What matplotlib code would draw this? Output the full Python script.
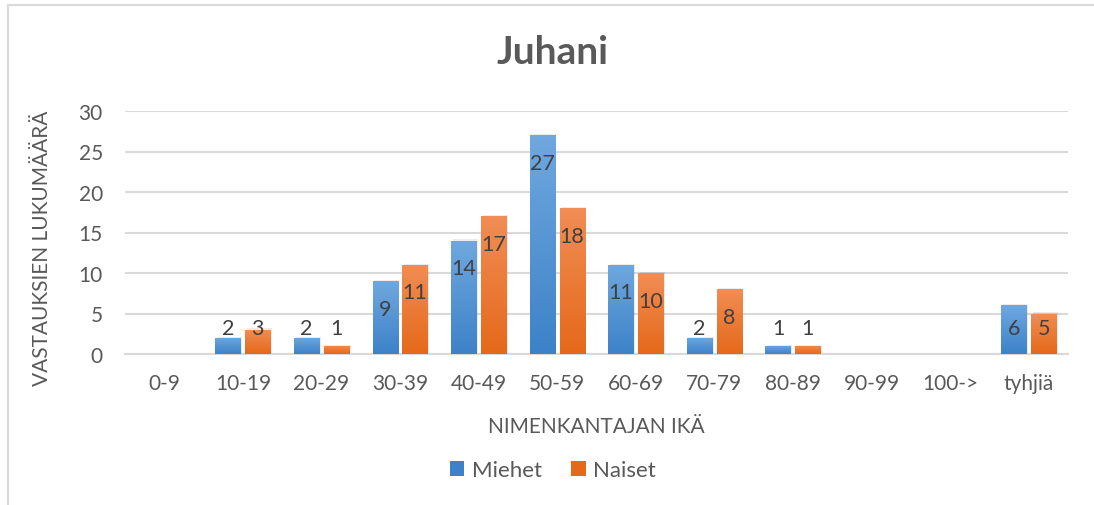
import numpy as np
import matplotlib
matplotlib.use("Agg")
import matplotlib.pyplot as plt
from matplotlib.lines import Line2D
from matplotlib.patches import Rectangle

categories = ["0-9", "10-19", "20-29", "30-39", "40-49", "50-59", "60-69",
              "70-79", "80-89", "90-99", "100->", "tyhjiä"]
miehet = [0, 2, 2, 9, 14, 27, 11, 2, 1, 0, 0, 6]
naiset = [0, 3, 1, 11, 17, 18, 10, 8, 1, 0, 0, 5]
series_names = ["Miehet", "Naiset"]
title = "Juhani"
xlabel = "NIMENKANTAJAN IKÄ"
ylabel = "VASTAUKSIEN LUKUMÄÄRÄ"
yticks = [0, 5, 10, 15, 20, 25, 30]

plt.rcParams['font.family'] = ['Lato', 'DejaVu Sans']
text_col = "#595959"
grid_col = "#D9D9D9"
blue_top, blue_bot = "#6FA8DF", "#3D82C8"
orange_top, orange_bot = "#F18D55", "#E5691A"

W, H = 1094, 506
fig = plt.figure(figsize=(W / 100, H / 100), dpi=100)
ax = fig.add_axes([125 / W, 1 - 355 / H, (1068 - 125) / W, (355 - 112) / H])

x = np.arange(len(categories))
bw = 0.32
off = 0.19


def grad_bar(xc, h, top, bot):
    if h <= 0:
        return
    sh = Rectangle((xc - bw / 2 + 0.02, 0), bw, h + 0.15, facecolor="#000000",
                   alpha=0.08, edgecolor="none", zorder=2)
    ax.add_patch(sh)
    rect = Rectangle((xc - bw / 2, 0), bw, h, facecolor="none", edgecolor="none", zorder=3)
    ax.add_patch(rect)
    c1 = np.array(matplotlib.colors.to_rgb(top))
    c2 = np.array(matplotlib.colors.to_rgb(bot))
    t = np.linspace(0, 1, 64)[:, None]
    img = (c1 * (1 - t) + c2 * t)[:, None, :]
    im = ax.imshow(img, extent=(xc - bw / 2, xc + bw / 2, 0, h), aspect="auto",
                   origin="upper", zorder=3, interpolation="bilinear")
    im.set_clip_path(rect)


for i in range(len(categories)):
    grad_bar(x[i] - off, miehet[i], blue_top, blue_bot)
    grad_bar(x[i] + off, naiset[i], orange_top, orange_bot)

ax.set_aspect("auto")
ax.set_xlim(-0.5, len(categories) - 0.5)
ax.set_ylim(0, 30)

for vals, o in ((miehet, -off), (naiset, off)):
    for i, v in enumerate(vals):
        if v <= 0:
            continue
        yl = max(v - 3.4, 3.2)
        ax.text(x[i] + o, yl, str(v), ha="center", va="center", fontsize=15.5,
                color="#404040", zorder=5)

ax.set_yticks(yticks)
ax.yaxis.grid(True, color=grid_col, linewidth=1.5, zorder=0)
ax.set_axisbelow(True)
for s in ["left", "right", "top"]:
    ax.spines[s].set_visible(False)
ax.spines["bottom"].set_color(grid_col)
ax.spines["bottom"].set_linewidth(1.5)
ax.tick_params(axis="both", length=0, labelsize=15, labelcolor=text_col)
ax.tick_params(axis="y", pad=16)
ax.tick_params(axis="x", pad=14)
ax.set_xticks(x)
ax.set_xticklabels(categories)

ax.set_xlabel(xlabel, fontsize=15, color=text_col, labelpad=16)
fig.text(42 / W, 1 - 248 / H, ylabel, rotation=90, ha="center", va="center",
         fontsize=15, color=text_col)
fig.text(553 / W, 1 - 52 / H, title, ha="center", va="center", fontsize=28,
         fontweight="bold", color=text_col)

handles = [Rectangle((0, 0), 1, 1, facecolor=blue_bot, edgecolor="none"),
           Rectangle((0, 0), 1, 1, facecolor=orange_bot, edgecolor="none")]
fig.legend(handles, series_names, loc="center", bbox_to_anchor=(553 / W, 1 - 471 / H),
           ncol=2, frameon=False, fontsize=16, labelcolor=text_col,
           handlelength=0.65, handleheight=0.65, handletextpad=0.35, columnspacing=1.3)

fig.add_artist(Line2D([8 / W, 1], [1 - 6 / H, 1 - 6 / H], color=grid_col, linewidth=1.5,
                      transform=fig.transFigure))
fig.add_artist(Line2D([8 / W, 8 / W], [0, 1 - 6 / H], color=grid_col, linewidth=1.5,
                      transform=fig.transFigure))

fig.savefig("out.png", dpi=100)
